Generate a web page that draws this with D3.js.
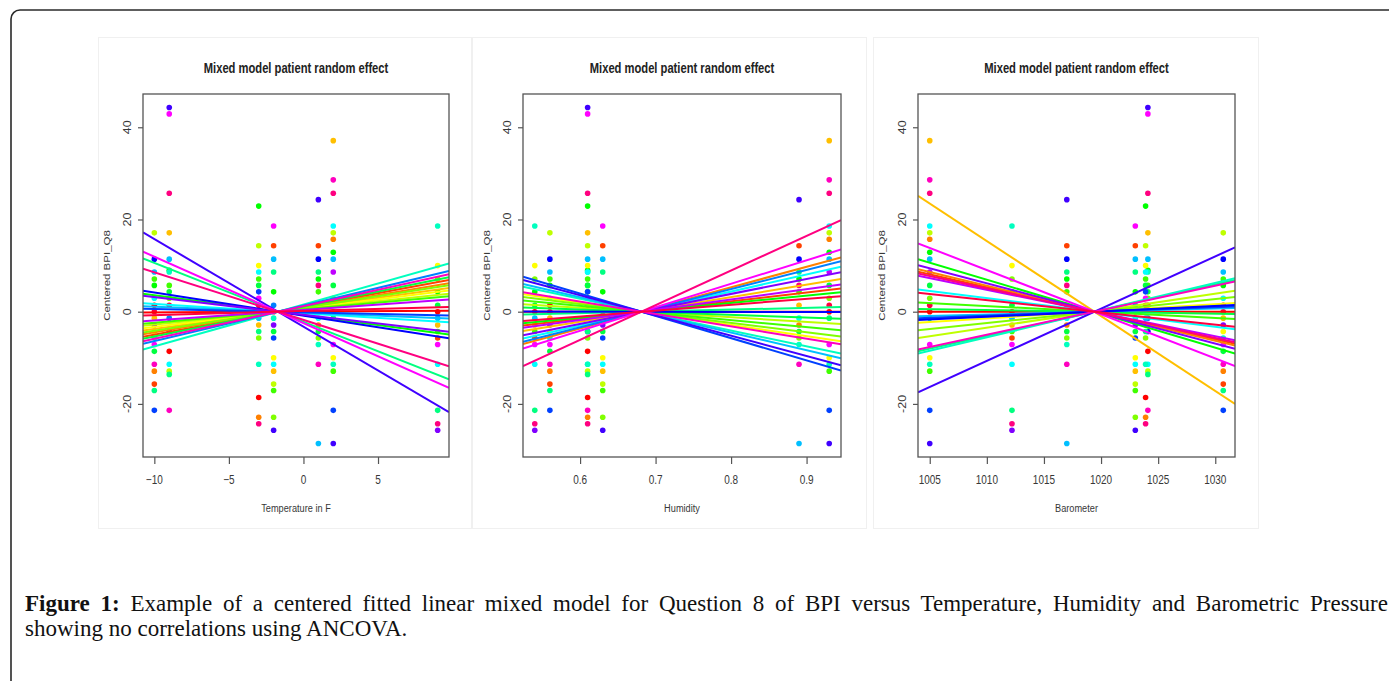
<!DOCTYPE html>
<html>
<head>
<meta charset="utf-8">
<script src="https://cdn.jsdelivr.net/npm/d3@7"></script>
<style>
  body { margin: 0; background: #fff; }
  svg { display: block; }
</style>
</head>
<body>
<div id="chart"></div>
<script>
// One reading per observation day
const temperature = [-10, -9, -3, -2, 1, 2, 9];
const humidity = [0.56, 0.61, 0.61, 0.63, 0.89, 0.93, 0.54];
const barometer = [1030.7, 1024.1, 1023.9, 1023.0, 1017.0, 1005.0, 1012.2];

// Centered BPI_Q8 per day, as [value, patient]
const day1 = [[17.1, 5], [11.4, 16], [8.6, 13], [7.1, 7], [5.7, 8], [2.9, 12], [1.4, 0], [0, 23], [-1.4, 3],
  [-2.9, 18], [-4.3, 4], [-5.7, 11], [-7.1, 20], [-8.6, 9], [-11.4, 21], [-12.9, 2], [-15.7, 1], [-17.1, 10], [-21.4, 15]];
const day2 = [[44.3, 17], [42.9, 20], [25.7, 22], [17.1, 3], [11.4, 13], [9.0, 8], [8.6, 11], [5.7, 7], [4.3, 9],
  [2.9, 6], [1.4, 23], [-1.4, 14], [-4.3, 16], [-8.6, 0], [-11.4, 12], [-12.9, 5], [-13.6, 10], [-21.4, 21]];
const day3 = [[22.9, 8], [14.3, 5], [10.0, 4], [8.6, 12], [7.1, 7], [5.7, 9], [4.3, 15], [2.9, 20], [1.4, 23],
  [-1.4, 13], [-2.9, 3], [-4.3, 10], [-5.7, 6], [-11.4, 11], [-18.6, 0], [-22.9, 2], [-24.3, 22]];
const day4 = [[18.6, 20], [14.3, 1], [11.4, 13], [8.6, 10], [4.3, 8], [1.4, 14], [0, 23], [-1.4, 11], [-2.9, 18],
  [-4.3, 9], [-5.7, 15], [-10.0, 4], [-11.4, 12], [-12.9, 3], [-15.7, 5], [-17.1, 7], [-22.9, 6], [-25.7, 17]];
const day5 = [[24.3, 17], [14.3, 1], [11.4, 16], [8.6, 10], [7.1, 8], [5.7, 22], [4.3, 7], [1.4, 3], [-1.4, 12],
  [-2.9, 2], [-4.3, 9], [-5.7, 6], [-7.1, 11], [-11.4, 21], [-28.6, 13]];
const day6 = [[37.1, 3], [28.6, 21], [25.7, 22], [18.6, 12], [17.1, 5], [15.7, 2], [12.9, 8], [11.4, 13], [8.6, 19],
  [5.7, 9], [2.9, 6], [1.4, 23], [0, 0], [-1.4, 10], [-7.1, 20], [-10.0, 4], [-11.4, 11], [-12.9, 7], [-21.4, 15], [-28.6, 17]];
const day7 = [[18.6, 11], [10.0, 4], [7.1, 6], [4.3, 8], [1.4, 9], [0, 0], [-1.4, 13], [-2.9, 3], [-4.3, 7],
  [-5.7, 1], [-7.1, 20], [-11.4, 12], [-21.4, 10], [-24.3, 22], [-25.7, 18]];
const days = [day1, day2, day3, day4, day5, day6, day7];

// Fitted random slope per patient (index = patient)
const tempSlopes = [0.02, 0.60, 0.54, 0.45, 0.40, 0.34, 0.50, 0.29, -0.43, 0.65, -1.28, 0.91,
  -0.20, -0.13, 0.77, -0.07, -0.50, -1.90, -0.38, 0.23, -1.44, 0.71, -1.03, 0.09];
const humSlopes = [0.0, 19.1, 44.6, 26.8, -24.2, -10.2, -20.4, -15.3, 15.9, -5.7, 3.8, -34.4,
  36.9, -38.2, 41.4, -48.4, -0.3, -43.9, 32.5, 22.3, 51.0, -26.8, 75.2, 12.7];
const baroSlopes = [0, -0.563, -0.596, -1.626, 0.155, 0.369, 0.259, -0.130, -0.738, -0.039, 0.557, 0.589,
  -0.311, 0.065, 0.104, 0.091, 0.117, 1.133, -0.654, -0.505, -0.959, 0.531, -0.538, -0.266];

const yTicks = [-20, 0, 20, 40];
const tempTicks = [-10, -5, 0, 5];
const humTicks = [0.6, 0.7, 0.8, 0.9];
const baroTicks = [1005, 1010, 1015, 1020, 1025, 1030];

const nPatients = 24;
const colors = d3.range(nPatients).map(i => d3.hsl(i / nPatients * 360, 1, 0.5).formatHex());

const width = 1389, height = 681;
const boxTop = 94, boxBottom = 457;

const svg = d3.select("#chart").append("svg")
    .attr("width", width)
    .attr("height", height);

// page frame
svg.append("rect")
    .attr("x", 11).attr("y", 10)
    .attr("width", 1420).attr("height", 720)
    .attr("rx", 9)
    .attr("fill", "none")
    .attr("stroke", "#2a2a2a")
    .attr("stroke-width", 1.6);

const panels = [
    { xs: temperature, slopes: tempSlopes, ticks: tempTicks, label: "Temperature in F", left: 143, right: 449, frame: [98, 471] },
    { xs: humidity, slopes: humSlopes, ticks: humTicks, label: "Humidity", left: 523, right: 841, frame: [472, 866] },
    { xs: barometer, slopes: baroSlopes, ticks: baroTicks, label: "Barometer", left: 918, right: 1235, frame: [873, 1258] }
];

// R style axis range: data extent widened by 4%
function padded(ext) {
    const d = (ext[1] - ext[0]) * 0.04;
    return [ext[0] - d, ext[1] + d];
}

const allValues = days.flat().map(d => d[0]);
const yDomain = padded(d3.extent(allValues));

function squeezed(g, x, y, str, size, weight) {
    return g.append("text")
        .attr("transform", `translate(${x},${y}) scale(0.8,1)`)
        .attr("text-anchor", "middle")
        .style("font-family", "'Liberation Sans', Arial, sans-serif")
        .style("font-size", size + "px")
        .style("font-weight", weight || "normal")
        .attr("fill", "#383838")
        .text(str);
}

panels.forEach((p, pi) => {
    const g = svg.append("g");

    // picture edge of each plot
    g.append("rect")
        .attr("x", p.frame[0] + 0.5).attr("y", 37.5)
        .attr("width", p.frame[1] - p.frame[0]).attr("height", 491)
        .attr("fill", "none")
        .attr("stroke", "#f0f0f0");

    const x = d3.scaleLinear().domain(padded(d3.extent(p.xs))).range([p.left, p.right]);
    const y = d3.scaleLinear().domain(yDomain).range([boxBottom, boxTop]);
    const cx = (p.left + p.right) / 2;

    g.append("clipPath").attr("id", "clip" + pi)
        .append("rect")
        .attr("x", p.left).attr("y", boxTop)
        .attr("width", p.right - p.left).attr("height", boxBottom - boxTop);

    const plot = g.append("g").attr("clip-path", `url(#clip${pi})`);

    // points
    days.forEach((day, di) => {
        plot.selectAll(null)
            .data(day)
            .enter()
            .append("circle")
            .attr("cx", x(p.xs[di]))
            .attr("cy", d => y(d[0]))
            .attr("r", 2.8)
            .attr("fill", d => colors[d[1]]);
    });

    // fitted lines through the centred mean
    const xMean = d3.mean(p.xs);
    const dom = x.domain();
    plot.selectAll(".fit")
        .data(p.slopes)
        .enter()
        .append("line")
        .attr("x1", x(dom[0]))
        .attr("x2", x(dom[1]))
        .attr("y1", s => y(s * (dom[0] - xMean)))
        .attr("y2", s => y(s * (dom[1] - xMean)))
        .attr("stroke", (s, i) => colors[i])
        .attr("stroke-width", 2);

    // box
    g.append("rect")
        .attr("x", p.left).attr("y", boxTop)
        .attr("width", p.right - p.left).attr("height", boxBottom - boxTop)
        .attr("fill", "none")
        .attr("stroke", "#555")
        .attr("stroke-width", 1.3);

    // x axis
    const xAxis = g.append("g").attr("transform", `translate(0,${boxBottom})`)
        .call(d3.axisBottom(x).tickValues(p.ticks).tickSize(7).tickFormat(""));
    xAxis.select(".domain").remove();
    xAxis.selectAll("line").attr("stroke", "#555").attr("stroke-width", 1.2);
    p.ticks.forEach(t => squeezed(g, x(t), 483.5, d3.format("")(t), 12.5));

    // y axis
    const yAxis = g.append("g").attr("transform", `translate(${p.left},0)`)
        .call(d3.axisLeft(y).tickValues(yTicks).tickSize(5).tickFormat(""));
    yAxis.select(".domain").remove();
    yAxis.selectAll("line").attr("stroke", "#555").attr("stroke-width", 1.2);
    yTicks.forEach(t => {
        g.append("text")
            .attr("transform", `translate(${p.left - 12.5},${y(t)}) rotate(-90) scale(1,0.8)`)
            .attr("text-anchor", "middle")
            .style("font-family", "'Liberation Sans', Arial, sans-serif")
            .style("font-size", "12.5px")
            .attr("fill", "#383838")
            .text(t);
    });

    // titles
    squeezed(g, cx, 72.5, "Mixed model patient random effect", 14, "bold").attr("fill", "#222");
    squeezed(g, cx, 512, p.label, 11.5);
    g.append("text")
        .attr("transform", `translate(${p.left - 33},${(boxTop + boxBottom) / 2}) rotate(-90) scale(1,0.8)`)
        .attr("text-anchor", "middle")
        .style("font-family", "'Liberation Sans', Arial, sans-serif")
        .style("font-size", "11.5px")
        .attr("fill", "#383838")
        .text("Centered BPI_Q8");
});

// caption
const capFont = "'Liberation Serif', 'Times New Roman', serif";
const line1 = svg.append("text")
    .attr("x", 25).attr("y", 611)
    .style("font-family", capFont)
    .style("font-size", "23px")
    .attr("fill", "#111");
line1.append("tspan").style("font-weight", "bold").text("Figure 1:");
line1.append("tspan").text(" Example of a centered fitted linear mixed model for Question 8 of BPI versus Temperature, Humidity and Barometric Pressure");
const natural = line1.node().getComputedTextLength();
line1.style("word-spacing", ((1363 - natural) / 20) + "px");

svg.append("text")
    .attr("x", 25).attr("y", 636)
    .style("font-family", capFont)
    .style("font-size", "23px")
    .attr("fill", "#111")
    .text("showing no correlations using ANCOVA.");
</script>
</body>
</html>
